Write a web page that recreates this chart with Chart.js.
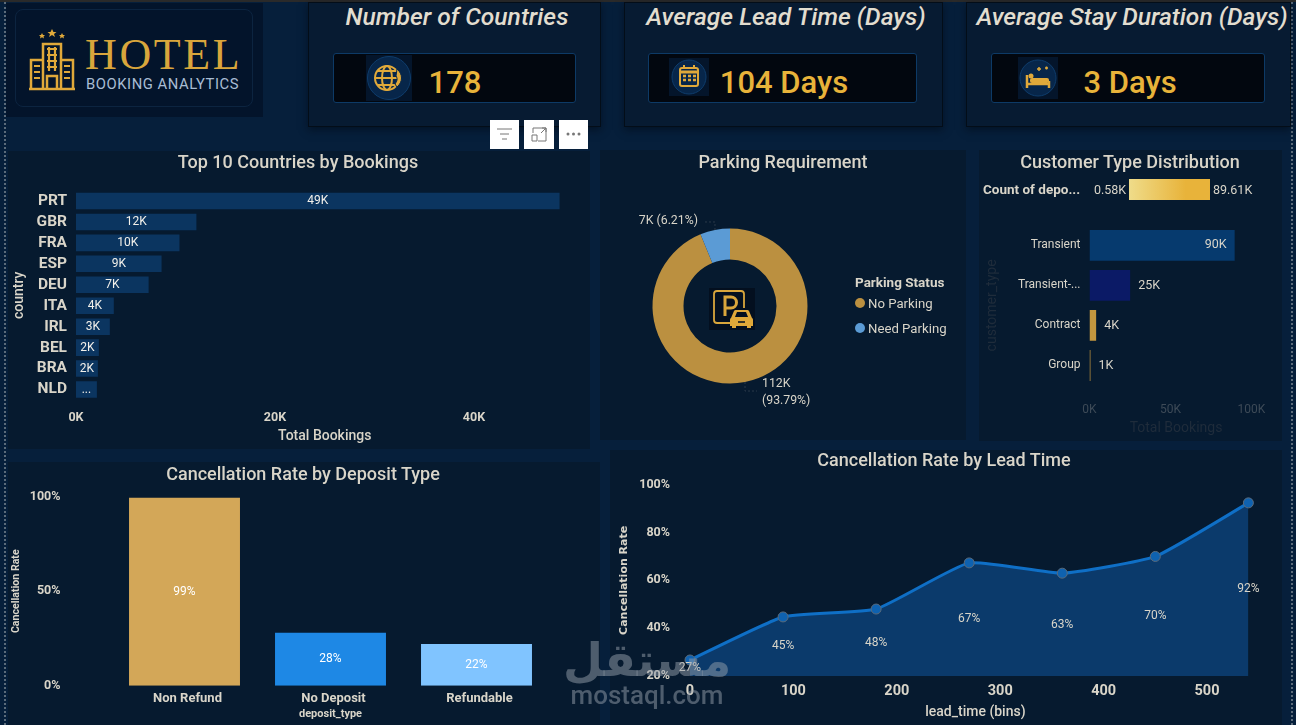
<!DOCTYPE html>
<html>
<head>
<meta charset="utf-8">
<title>Hotel Booking Analytics</title>
<script src="https://cdn.jsdelivr.net/npm/chart.js@4/dist/chart.umd.min.js"></script>
<style>
html, body { margin: 0; padding: 0; }
body { width: 1296px; height: 725px; position: relative; overflow: hidden; background: #061f3b; font-family: Roboto, sans-serif; color: #d9d5c9; }
.abs { position: absolute; }
.panel { position: absolute; background: #061a2f; }
.t { position: absolute; transform: translate(-50%, -50%); white-space: nowrap; }
.l { position: absolute; transform: translateY(-50%); white-space: nowrap; }
.title { font-size: 18px; font-weight: 500; color: #d9d5c9; }
.card { position: absolute; background: #071b32; border: 1px solid #030d18; box-shadow: 0 3px 8px rgba(2, 10, 20, .55); box-sizing: border-box; }
.kpiname { font-size: 24.6px; font-weight: 500; font-style: italic; color: #e2ddcf; }
.kpibox { position: absolute; background: #02070f; border: 1px solid #0d3a66; border-radius: 3px; box-sizing: border-box; }
.kpival { font-size: 31px; font-weight: 500; color: #e8b33a; }
.btn { position: absolute; top: 120px; width: 29px; height: 29px; background: #fff; }
canvas { position: absolute; }
.dot { position: absolute; width: 10px; height: 10px; border-radius: 50%; transform: translate(-50%, -50%); }
</style>
</head>
<body>
<div class="abs" style="left:0;top:0;width:1296px;height:2px;background:#2a2a2a"></div>
<div class="abs" style="left:4px;top:2px;height:723px;border-left:2px dotted #5b6b7a"></div>
<div class="abs" style="left:1291px;top:2px;height:723px;border-left:2px dotted #5b6b7a"></div>

<!-- logo -->
<div class="panel" style="left:6px;top:3px;width:257px;height:114px;background:#03142b"></div>
<div class="abs" style="left:15px;top:9px;width:238px;height:98px;border:1px solid #0c2440;border-radius:8px;box-sizing:border-box"></div>
<svg class="abs" style="left:28px;top:28px" width="48" height="64" viewBox="0 0 48 64" fill="none" stroke="#e0a93a">
  <path d="M15 60V16H33V60M3 60V32H15M33 32H45V60M1 61H47" stroke-width="2.5"/>
  <path d="M19 60V48H29V60" stroke-width="2.5"/>
  <path d="M19 21H29M19 27H29M19 33H29M19 39H29M21 19V43M27 19V43M6 38H12M6 44H12M6 50H12M36 38H42M36 44H42M36 50H42" stroke-width="2.2"/>
  <path d="M24 1l1.5 3h3l-2.5 2 1 3-3-2-3 2 1-3-2.500-2h3zM14 5l1 2h2l-1.500 1.500.5 2-2-1.200-2 1.200.5-2L11 7h2zM34 5l1 2h2l-1.500 1.500.5 2-2-1.200-2 1.200.5-2L31 7h2z" fill="#e0a93a" stroke="none"/>
</svg>
<div class="l" style="left:85px;top:54px;font:44px 'Liberation Serif',serif;letter-spacing:2.6px;color:#d9a63c">HOTEL</div>
<div class="l" style="left:86px;top:84px;font-size:14.8px;letter-spacing:.55px;color:#a9bdd4">BOOKING ANALYTICS</div>

<!-- kpi cards -->
<div class="card" style="left:308px;top:2px;width:293px;height:125px"></div>
<div class="card" style="left:624px;top:2px;width:319px;height:125px"></div>
<div class="card" style="left:966px;top:2px;width:325px;height:125px"></div>
<div class="t kpiname" style="left:457px;top:16px">Number of Countries</div>
<div class="t kpiname" style="left:786px;top:16px">Average Lead Time (Days)</div>
<div class="t kpiname" style="left:1132px;top:16px">Average Stay Duration (Days)</div>
<div class="kpibox" style="left:333px;top:53px;width:243px;height:50px"></div>
<div class="kpibox" style="left:648px;top:53px;width:269px;height:50px"></div>
<div class="kpibox" style="left:991px;top:53px;width:274px;height:50px"></div>

<svg class="abs" style="left:366px;top:55px" width="46" height="46" viewBox="0 0 46 46" fill="none" stroke="#e0a93a">
  <rect width="46" height="46" fill="#04152b" stroke="none"/><circle cx="23" cy="23" r="21.500" fill="#07264a" stroke="#0e3c6b"/>
  <circle cx="21" cy="23" r="12" stroke-width="2"/><ellipse cx="21" cy="23" rx="5" ry="12" stroke-width="2"/><path d="M9 23H33M11 16H31M11 30H31" stroke-width="2"/>
  <path d="M31 14c6 5 6 13 0 18l-2-3c2-3 3-5 1-8z" fill="#e0a93a" stroke="#07264a"/>
</svg>
<svg class="abs" style="left:669px;top:58px" width="40" height="38" viewBox="0 0 40 38" fill="none" stroke="#e0a93a">
  <rect width="40" height="38" fill="#04152b" stroke="none"/><circle cx="20" cy="19" r="17" fill="#07264a" stroke="#0e3c6b"/>
  <rect x="11" y="10" width="18" height="18" rx="2" stroke-width="2"/><path d="M11 14H29" stroke-width="3"/><path d="M15 7V11M25 7V11" stroke-width="2"/><path d="M14 18h3M19 18h3M24 18h3M14 22h3M19 22h3M24 22h3" stroke-width="2.500"/>
</svg>
<svg class="abs" style="left:1018px;top:57px" width="40" height="42" viewBox="0 0 40 42" fill="none" stroke="#e0a93a">
  <rect width="40" height="42" fill="#04152b" stroke="none"/><circle cx="20" cy="21" r="18" fill="#07264a" stroke="#0e3c6b"/>
  <path d="M9 18V31M31 24V31M9 27H31" stroke-width="2.500"/><rect x="12" y="21" width="19" height="5" rx="2" fill="#e0a93a" stroke="none"/><circle cx="13" cy="19" r="2.500" fill="#e0a93a" stroke="none"/>
  <path d="M19 12h4M21 10v4M27 11h3M28.500 9.500v3" stroke-width="1.500"/>
</svg>
<div class="t kpival" style="left:455px;top:82px">178</div>
<div class="t kpival" style="left:784px;top:82px">104 Days</div>
<div class="t kpival" style="left:1130px;top:82px">3 Days</div>

<!-- visual header buttons -->
<div class="btn" style="left:490px"><svg width="29" height="29" fill="none" stroke="#777"><path d="M7 9H22M10 14H19M12 19H17"/></svg></div>
<div class="btn" style="left:524px;width:30px"><svg width="30" height="29" fill="none" stroke="#777"><path d="M9 13V8H22V21H14M17 13L22 8M18 8H22V12M8 15H13V21H8z"/></svg></div>
<div class="btn" style="left:559px"><svg width="29" height="29" fill="#777"><circle cx="9" cy="14" r="1.500"/><circle cx="14.500" cy="14" r="1.500"/><circle cx="20" cy="14" r="1.500"/></svg></div>

<!-- chart panels -->
<div class="panel" style="left:8px;top:151px;width:582px;height:298px"></div>
<div class="panel" style="left:600px;top:150px;width:366px;height:290px"></div>
<div class="panel" style="left:979px;top:150px;width:303px;height:291px"></div>
<div class="panel" style="left:8px;top:462px;width:592px;height:263px"></div>
<div class="panel" style="left:610px;top:450px;width:672px;height:275px"></div>

<canvas id="countryChart" style="left:8px;top:151px"></canvas>
<canvas id="parkingChart" style="left:600px;top:150px"></canvas>
<canvas id="customerChart" style="left:979px;top:150px"></canvas>
<canvas id="depositChart" style="left:8px;top:462px"></canvas>
<canvas id="leadChart" style="left:610px;top:450px"></canvas>

<div class="t title" style="left:298px;top:161px">Top 10 Countries by Bookings</div>
<div class="t title" style="left:783px;top:161px">Parking Requirement</div>
<div class="t title" style="left:1130px;top:161px">Customer Type Distribution</div>
<div class="t title" style="left:303px;top:473px">Cancellation Rate by Deposit Type</div>
<div class="t title" style="left:944px;top:459px">Cancellation Rate by Lead Time</div>

<!-- parking legend -->
<div class="l" style="left:855px;top:282px;font-size:13.5px;font-weight:700">Parking Status</div>
<div id="parkingLegend"></div>
<div class="abs" style="left:709px;top:288px;width:46px;height:42px;background:#030f1f"></div>
<svg class="abs" style="left:709px;top:288px" width="46" height="42" viewBox="0 0 46 42" fill="none" stroke="#d9a63c">
  <path d="M24 35H8a3 3 0 0 1-3-3V6a3 3 0 0 1 3-3H32a3 3 0 0 1 3 3V20" stroke-width="1.800"/>
  <path d="M16 28V9h6a5 5 0 0 1 0 11h-6" stroke-width="3"/>
  <path d="M22 30l3-7a2 2 0 0 1 2-1H38a2 2 0 0 1 2 1l3 7a2 2 0 0 1 1 2v6H21v-6a2 2 0 0 1 1-2z" fill="#e0a93a" stroke="none"/>
  <path d="M26 29l2-5H37l2 5z" fill="#030f1f" stroke="none"/>
  <path d="M23 38h4v2h-4zM38 38h4v2h-4z" fill="#e0a93a" stroke="none"/>
  <path d="M29 34H36" stroke="#030f1f" stroke-width="1.500"/>
</svg>

<!-- customer gradient legend -->
<div class="l" style="left:983px;top:189px;font-size:13.500px;font-weight:700">Count of depo...</div>
<div class="l" style="left:1094px;top:189px;font-size:12.500px">0.58K</div>
<div class="abs" style="left:1129px;top:179px;width:81px;height:21px;background:linear-gradient(90deg,#efdc8a,#e8b33a 70%)"></div>
<div class="l" style="left:1213px;top:189px;font-size:12.500px">89.61K</div>

<!-- watermark -->
<div class="t" style="left:647px;top:660px;font:700 46px 'DejaVu Sans',sans-serif;color:rgba(150,160,172,.5)" dir="rtl">مستقل</div>
<div class="t" style="left:647px;top:695px;font-size:26px;font-weight:500;color:rgba(150,160,172,.5)">mostaql.com</div>

<script>
// Top 10 countries
const countries = ['PRT', 'GBR', 'FRA', 'ESP', 'DEU', 'ITA', 'IRL', 'BEL', 'BRA', 'NLD'];
const bookings = [48600, 12100, 10400, 8600, 7300, 3800, 3400, 2300, 2200, 2100];
const bookingLabels = ['49K', '12K', '10K', '9K', '7K', '4K', '3K', '2K', '2K', '...'];
const bookingTicks = [0, 20000, 40000];

// Parking
const parkingNames = ['No Parking', 'Need Parking'];
const parkingValues = [112000, 7415];
const parkingLabels = [['112K', '(93.79%)'], ['7K (6.21%)']];
const parkingColors = ['#bb9040', '#5b9bd5'];

// Customer types
const customerTypes = ['Transient', 'Transient-...', 'Contract', 'Group'];
const customerValues = [89610, 25100, 4100, 580];
const customerLabels = ['90K', '25K', '4K', '1K'];
const customerPlaces = ['end', 'out', 'out', 'out'];
const customerColors = ['#063a6e', '#0b1a66', '#c4973f', '#c4973f'];
const customerTicks = [0, 50000, 100000];

// Deposit types
const depositTypes = ['Non Refund', 'No Deposit', 'Refundable'];
const depositRates = [99.4, 28, 22];
const depositLabels = ['99%', '28%', '22%'];
const depositColors = ['#d3a758', '#1e88e5', '#80c4ff'];
const depositTicks = [0, 50, 100];

// Lead time
const leadBins = [0, 90, 180, 270, 360, 450, 540];
const leadRates = [26.7, 44.7, 48, 67.3, 63, 70, 92.4];
const leadLabels = ['27%', '45%', '48%', '67%', '63%', '70%', '92%'];
const leadXTicks = [0, 100, 200, 300, 400, 500];
const leadYTicks = [20, 40, 60, 80, 100];

const textColor = '#d9d5c9';
const dimColor = '#3d4a57';
const dimmerColor = '#1f2c3b';
const font = (size, weight, family) => ({ family: family || 'Roboto', size: size, weight: weight || 400 });

Chart.defaults.font.family = 'Roboto';
Chart.defaults.animation = false;
Chart.defaults.responsive = false;

// sets the canvas size and returns the context
function getCtx(id, w, h) {
    const c = document.getElementById(id);
    c.width = w;
    c.height = h;
    return c.getContext('2d');
}

// axis title placed at a given distance from the canvas edge
function axisTitle(text, color, f, offset) {
    const pad = offset - f.size * 0.6;
    return { display: true, text: text, color: color, font: f, padding: { top: pad, bottom: pad } };
}

// fixed axis size, so the plot area lands where the layout padding says
function fitAxis(prop, size) {
    return s => {
        s[prop] = size;
        s.paddingTop = s.paddingBottom = s.paddingLeft = s.paddingRight = 0;
    };
}

const useTicks = values => s => { s.ticks = values.map(v => ({ value: v })); };
const noGrid = { display: false, drawTicks: false };

// value labels drawn from the bar and point elements
const valueLabels = {
    id: 'valueLabels',
    afterDatasetsDraw(chart, args, opts) {
        if (!opts.texts) return;
        const ctx = chart.ctx;
        ctx.save();
        ctx.fillStyle = opts.color;
        ctx.font = opts.font;
        ctx.textBaseline = 'middle';
        chart.getDatasetMeta(0).data.forEach((el, i) => {
            const place = opts.places ? opts.places[i] : opts.place;
            let x = el.x, y = el.y;
            ctx.textAlign = 'center';
            if (place === 'hcenter') x = (el.x + el.base) / 2;
            if (place === 'vcenter') y = (el.y + el.base) / 2;
            if (place === 'end') { x = el.x - 8; ctx.textAlign = 'right'; }
            if (place === 'out') { x = el.x + 8; ctx.textAlign = 'left'; }
            if (place === 'area') y = (el.y + chart.chartArea.bottom) / 2;
            ctx.fillText(opts.texts[i], x, y);
        });
        ctx.restore();
    }
};

// leader lines and labels around the doughnut
const donutLabels = {
    id: 'donutLabels',
    afterDatasetsDraw(chart, args, opts) {
        if (!opts.texts) return;
        const ctx = chart.ctx;
        ctx.save();
        ctx.font = opts.font;
        ctx.textBaseline = 'middle';
        chart.getDatasetMeta(0).data.forEach((arc, i) => {
            const mid = (arc.startAngle + arc.endAngle) / 2;
            const r = arc.outerRadius;
            const x = arc.x + Math.cos(mid) * r;
            const y = arc.y + Math.sin(mid) * r;
            const dir = Math.cos(mid) >= 0 ? 1 : -1;
            const dy = Math.sin(mid) >= 0 ? 9 : -8;
            ctx.strokeStyle = '#2b3a4a';
            ctx.setLineDash([2, 2]);
            ctx.beginPath();
            ctx.moveTo(x, y);
            ctx.lineTo(x, y + dy);
            ctx.lineTo(x + dir * 12, y + dy);
            ctx.stroke();
            ctx.setLineDash([]);
            ctx.fillStyle = opts.color;
            ctx.textAlign = dir > 0 ? 'left' : 'right';
            opts.texts[i].forEach((line, n) => {
                const ty = dir > 0 ? y + 2 + n * 16.7 : y + dy - 1;
                ctx.fillText(line, x + dir * 17, ty);
            });
        });
        ctx.restore();
    }
};
Chart.register(valueLabels, donutLabels);

// parking legend from the same arrays
document.getElementById('parkingLegend').innerHTML = parkingNames.map((n, i) =>
    '<div class="dot" style="left:860px;top:' + (303 + i * 25) + 'px;background:' + parkingColors[i] + '"></div>' +
    '<div class="l" style="left:868px;top:' + (303 + i * 25) + 'px;font-size:13.2px">' + n + '</div>').join('');

new Chart(getCtx('countryChart', 582, 298), {
    type: 'bar',
    data: { labels: countries, datasets: [{ data: bookings, backgroundColor: '#0b3560', barPercentage: 0.79, categoryPercentage: 1 }] },
    options: {
        indexAxis: 'y',
        layout: { autoPadding: false, padding: { top: 39.5, right: 16.5, bottom: 0, left: 0 } },
        plugins: {
            legend: { display: false }, tooltip: { enabled: false },
            valueLabels: { texts: bookingLabels, place: 'hcenter', color: '#f2f0ea', font: '12px Roboto' }
        },
        scales: {
            y: {
                grid: noGrid, border: { display: false },
                ticks: { autoSkip: false, color: textColor, font: font(15.5, 700), padding: 9 },
                title: axisTitle('country', textColor, font(14, 500), 11),
                afterFit: fitAxis('width', 68)
            },
            x: {
                min: 0, max: 50000,
                grid: noGrid, border: { display: false },
                afterBuildTicks: useTicks(bookingTicks),
                ticks: { maxRotation: 0, color: textColor, font: font(12.5, 700), padding: 10, callback: v => (v / 1000) + 'K' },
                title: axisTitle('Total Bookings', textColor, font(14, 500), 13),
                afterFit: fitAxis('height', 49)
            }
        }
    }
});

new Chart(getCtx('parkingChart', 366, 290), {
    type: 'doughnut',
    data: { labels: parkingNames, datasets: [{ data: parkingValues, backgroundColor: parkingColors, borderWidth: 0 }] },
    options: {
        cutout: '60%',
        layout: { autoPadding: false, padding: { left: 52.5, right: 158.5, top: 78.5, bottom: 56.5 } },
        plugins: {
            legend: { display: false }, tooltip: { enabled: false },
            donutLabels: { texts: parkingLabels, color: textColor, font: '12.3px Roboto' }
        }
    }
});

new Chart(getCtx('customerChart', 303, 291), {
    type: 'bar',
    data: { labels: customerTypes, datasets: [{ data: customerValues, backgroundColor: customerColors, barPercentage: 0.77, categoryPercentage: 1 }] },
    options: {
        indexAxis: 'y',
        layout: { autoPadding: false, padding: { top: 75.3, right: 19.5, bottom: 0, left: 0 } },
        plugins: {
            legend: { display: false }, tooltip: { enabled: false },
            valueLabels: { texts: customerLabels, places: customerPlaces, color: textColor, font: '12.5px Roboto' }
        },
        scales: {
            y: {
                grid: noGrid, border: { display: false },
                ticks: { autoSkip: false, color: textColor, font: font(12), padding: 9 },
                title: axisTitle('customer_type', dimmerColor, font(14), 13),
                afterFit: fitAxis('width', 110.5)
            },
            x: {
                min: 0, max: 106800,
                grid: noGrid, border: { display: false },
                afterBuildTicks: useTicks(customerTicks),
                ticks: { maxRotation: 0, color: dimColor, font: font(12), padding: 17, callback: v => (v / 1000) + 'K' },
                title: axisTitle('Total Bookings', dimmerColor, font(14), 13),
                afterFit: fitAxis('height', 55.5)
            }
        }
    }
});

new Chart(getCtx('depositChart', 592, 263), {
    type: 'bar',
    data: { labels: depositTypes, datasets: [{ data: depositRates, backgroundColor: depositColors, barPercentage: 0.76, categoryPercentage: 1 }] },
    options: {
        layout: { autoPadding: false, padding: { top: 34.7, right: 50.5, bottom: 0, left: 0 } },
        plugins: {
            legend: { display: false }, tooltip: { enabled: false },
            valueLabels: { texts: depositLabels, place: 'vcenter', color: '#ffffff', font: '12px Roboto' }
        },
        scales: {
            y: {
                min: 0, max: 100,
                grid: noGrid, border: { display: false },
                afterBuildTicks: useTicks(depositTicks),
                ticks: { color: textColor, font: font(12.5, 700), padding: 51, callback: v => v + '%' },
                title: axisTitle('Cancellation Rate', textColor, font(10.6, 700), 8),
                afterFit: fitAxis('width', 103.5)
            },
            x: {
                grid: noGrid, border: { display: false },
                ticks: { color: textColor, font: font(13, 700), padding: 5, labelOffset: 3, maxRotation: 0 },
                title: axisTitle('deposit_type', textColor, font(11, 700), 11),
                afterFit: fitAxis('height', 39.3)
            }
        }
    }
});

new Chart(getCtx('leadChart', 672, 275), {
    type: 'line',
    data: {
        datasets: [{
            data: leadBins.map((b, i) => ({ x: b, y: leadRates[i] })),
            borderColor: '#0f6fc6', borderWidth: 3, tension: 0.15,
            fill: 'origin', backgroundColor: '#0b3a6b',
            pointRadius: 5, pointBackgroundColor: '#0f62b0', pointBorderColor: '#5a6a7a', pointBorderWidth: 1,
            clip: false
        }]
    },
    options: {
        layout: { autoPadding: false, padding: { top: 34.7, right: 21.2, bottom: 0, left: 0 } },
        plugins: {
            legend: { display: false }, tooltip: { enabled: false },
            valueLabels: { texts: leadLabels, place: 'area', color: textColor, font: '12px Roboto' }
        },
        scales: {
            y: {
                min: 20, max: 100,
                grid: noGrid, border: { display: false },
                afterBuildTicks: useTicks(leadYTicks),
                ticks: { color: textColor, font: font(12.5, 700), padding: 20, callback: v => v + '%' },
                title: axisTitle('Cancellation Rate', textColor, font(11, 700, 'DejaVu Sans'), 14.4),
                afterFit: fitAxis('width', 80)
            },
            x: {
                type: 'linear', min: 0, max: 552,
                grid: noGrid, border: { display: false },
                afterBuildTicks: useTicks(leadXTicks),
                ticks: { maxRotation: 0, color: textColor, font: font(14.5, 700), padding: 7 },
                title: axisTitle('lead_time (bins)', textColor, font(14, 500), 13),
                afterFit: fitAxis('height', 49)
            }
        }
    }
});
</script>
</body>
</html>
